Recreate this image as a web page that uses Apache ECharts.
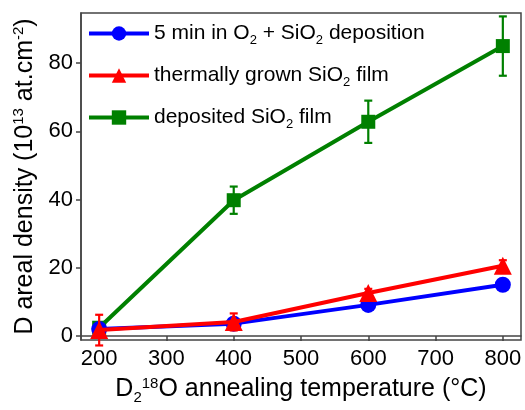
<!DOCTYPE html>
<html>
<head>
<meta charset="utf-8">
<script src="https://cdn.jsdelivr.net/npm/echarts@6/dist/echarts.min.js"></script>
<style>
	html, body { margin: 0; padding: 0; background: #fff; }
	#chart { width: 525px; height: 410px; }
</style>
</head>
<body>
<div id="chart"></div>
<script>
// data
const temps = [200, 400, 600, 800]
const blueVals = [2.0, 3.6, 9.1, 15.0]
const blueErr = [0.5, 0.5, 0.6, 0.8]
const redVals = [1.7, 4.1, 12.6, 20.6]
const redErr = [4.5, 2.5, 1.2, 1.6]
const greenVals = [2.4, 39.8, 62.8, 85.0]
const greenErr = [0.8, 4.0, 6.2, 8.7]
const xTicks = [200, 300, 400, 500, 600, 700, 800]
const yTicks = [0, 20, 40, 60, 80]

const FONT = 'Liberation Sans'

const chart = echarts.init(document.getElementById('chart'))

// error bars, drawn through the axes
errorBars = (vals, errs, color, z) => {
	return {
		type: 'custom',
		z: z,
		silent: true,
		data: temps.map((t, i) => [t, vals[i] - errs[i], vals[i] + errs[i]]),
		renderItem: (params, api) => {
			const lo = api.coord([api.value(0), api.value(1)])
			const hi = api.coord([api.value(0), api.value(2)])
			const half = 4
			const style = { stroke: color, lineWidth: 2.2 }
			return {
				type: 'group',
				children: [
					{ type: 'line', shape: { x1: lo[0], y1: lo[1], x2: hi[0], y2: hi[1] }, style: style },
					{ type: 'line', shape: { x1: lo[0] - half, y1: lo[1], x2: lo[0] + half, y2: lo[1] }, style: style },
					{ type: 'line', shape: { x1: hi[0] - half, y1: hi[1], x2: hi[0] + half, y2: hi[1] }, style: style },
				],
			}
		},
	}
}

lineSeries = (name, vals, color, symbol, size, z) => {
	return {
		name: name,
		type: 'line',
		z: z,
		data: temps.map((t, i) => [t, vals[i]]),
		symbol: symbol,
		symbolSize: size,
		lineStyle: { color: color, width: 4 },
		itemStyle: { color: color },
	}
}

const legendText = {
	blue: '{t|5 min in O}{s|2}{t| + SiO}{s|2}{t| deposition}',
	red: '{t|thermally grown SiO}{s|2}{t| film}',
	green: '{t|deposited SiO}{s|2}{t| film}',
}

const option = {
	animation: false,
	grid: {
		left: 81, right: 4, top: 13, bottom: 70,
		outerBoundsMode: 'none',
		containLabel: false,
		show: true, borderColor: '#444', borderWidth: 1.5,
	},
	legend: {
		data: ['blue', 'red', 'green'],
		orient: 'vertical',
		left: 82,
		top: 18,
		itemWidth: 60,
		itemHeight: 18,
		itemGap: 18,
		lineStyle: { width: 4 },
		formatter: (n) => legendText[n],
		textStyle: {
			rich: {
				t: { fontFamily: FONT, fontSize: 21, color: '#000' },
				s: { fontFamily: FONT, fontSize: 13, color: '#000', padding: [14, 0, 0, 0] },
			},
		},
	},
	xAxis: {
		type: 'value',
		min: 173,
		max: 827,
		name: '{t|D}{s|2}{p|18}{t|O annealing temperature (°C)}',
		nameLocation: 'middle',
		nameGap: 34,
		nameTextStyle: {
			rich: {
				t: { fontFamily: FONT, fontSize: 25, color: '#000' },
				s: { fontFamily: FONT, fontSize: 15, color: '#000', padding: [16, 0, 0, 0] },
				p: { fontFamily: FONT, fontSize: 15, color: '#000', padding: [0, 0, 12, 0] },
			},
		},
		splitLine: { show: false },
		axisLine: { lineStyle: { color: '#444', width: 1.5 } },
		axisTick: { customValues: xTicks, length: 5, lineStyle: { color: '#444', width: 1.5 } },
		axisLabel: { customValues: xTicks, fontFamily: FONT, fontSize: 22, color: '#000', margin: 8 },
	},
	yAxis: {
		type: 'value',
		min: -1.2,
		max: 94.7,
		name: '{t|D areal density (10}{p|13}{t| at.cm}{p|-2}{t|)}',
		nameLocation: 'middle',
		nameRotate: 90,
		nameGap: 40,
		nameTextStyle: {
			rich: {
				t: { fontFamily: FONT, fontSize: 25, color: '#000' },
				p: { fontFamily: FONT, fontSize: 15, color: '#000', padding: [0, 0, 12, 0] },
			},
		},
		splitLine: { show: false },
		axisLine: { show: true, lineStyle: { color: '#444', width: 1.5 } },
		axisTick: { show: true, customValues: yTicks, length: 5, lineStyle: { color: '#444', width: 1.5 } },
		axisLabel: { customValues: yTicks, fontFamily: FONT, fontSize: 22, color: '#000', margin: 8 },
	},
	series: [
		errorBars(greenVals, greenErr, '#008000', 1),
		lineSeries('green', greenVals, '#008000', 'rect', 14, 2),
		errorBars(blueVals, blueErr, '#0000ff', 3),
		lineSeries('blue', blueVals, '#0000ff', 'circle', 16, 4),
		errorBars(redVals, redErr, '#ff0000', 5),
		lineSeries('red', redVals, '#ff0000', 'triangle', 18, 6),
	],
}

chart.setOption(option)
</script>
</body>
</html>
